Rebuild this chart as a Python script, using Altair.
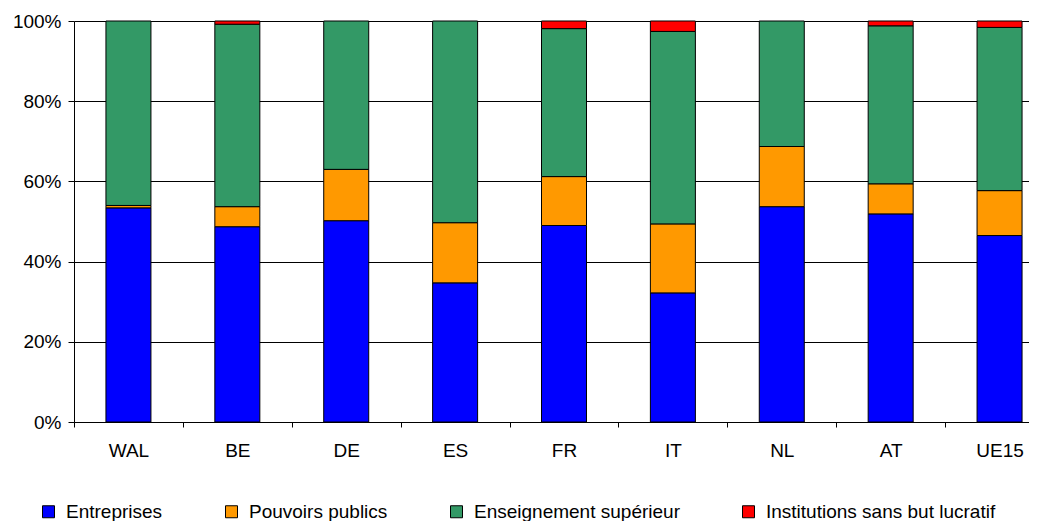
import altair as alt
import pandas as pd

countries = ["WAL", "BE", "DE", "ES", "FR", "IT", "NL", "AT", "UE15"]
sectors = ["Entreprises", "Pouvoirs publics", "Enseignement supérieur",
           "Institutions sans but lucratif"]
colors = ["#0000FF", "#FF9900", "#339966", "#FF0000"]

entreprises = [53.4, 48.7, 50.2, 34.7, 49.0, 32.2, 53.7, 51.9, 46.5]
pouvoirs = [0.6, 5.0, 12.8, 15.0, 12.2, 17.2, 15.0, 7.5, 11.2]
enseignement = [46.0, 45.5, 37.0, 50.3, 36.9, 48.0, 31.3, 39.4, 40.7]
institutions = [0.0, 0.8, 0.0, 0.0, 1.9, 2.6, 0.0, 1.2, 1.6]

series = [entreprises, pouvoirs, enseignement, institutions]
rows = []
for si, (name, vals) in enumerate(zip(sectors, series)):
    for c, v in zip(countries, vals):
        rows.append({"pays": c, "secteur": name, "idx": si, "valeur": v})
df = pd.DataFrame(rows)

FONT = "Liberation Sans"

chart = alt.Chart(df).transform_filter(
    alt.datum.valeur > 0
).mark_bar(size=45, stroke="black", strokeWidth=1).encode(
    x=alt.X("pays:N", sort=countries,
            scale=alt.Scale(range=[0, 980], paddingInner=0, paddingOuter=0),
            axis=alt.Axis(title=None, labelAngle=0, tickBand="extent",
                          tickSize=5, labelPadding=14, domainColor="black",
                          tickColor="black", labelColor="black",
                          labelFont=FONT, labelFontSize=19, grid=False)),
    y=alt.Y("valeur:Q", stack="normalize",
            scale=alt.Scale(domain=[0, 1]),
            axis=alt.Axis(title=None, values=[0, 0.2, 0.4, 0.6, 0.8, 1.0],
                          format=".0%", grid=True, gridColor="black",
                          gridOpacity=1, gridWidth=1, tickSize=6,
                          labelPadding=7, domainColor="black",
                          tickColor="black", labelColor="black",
                          labelFont=FONT, labelFontSize=19)),
    color=alt.Color("secteur:N",
                    scale=alt.Scale(domain=sectors, range=colors),
                    legend=alt.Legend(title=None, orient="none",
                                      legendX=-35, legendY=481,
                                      direction="horizontal", columns=4,
                                      columnPadding=59, symbolType="square",
                                      symbolSize=144, symbolStrokeColor="black",
                                      symbolStrokeWidth=1, labelOffset=8,
                                      labelLimit=500,
                                      labelFont=FONT, labelFontSize=19,
                                      labelColor="black", padding=0)),
    order=alt.Order("idx:Q", sort="ascending"),
).properties(
    width=955, height=401,
    padding={"left": 66, "top": 13, "right": 0, "bottom": 100},
    autosize=alt.AutoSizeParams(type="none"),
).configure_view(stroke=None)

chart.save("out.html", embed_options={"renderer": "svg", "actions": False})
